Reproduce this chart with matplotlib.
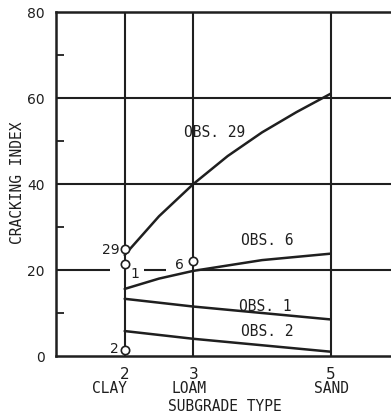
import matplotlib
matplotlib.use("Agg")
import matplotlib.pyplot as plt
import matplotlib.transforms as mtransforms

# ---- data ----
obs29_x = [2, 2.5, 3, 3.5, 4, 4.5, 5]
obs29_y = [23.5, 32.5, 40, 46.5, 52, 56.7, 61]
obs6_x = [2, 2.5, 3, 4, 5]
obs6_y = [15.6, 18.0, 19.8, 22.3, 23.8]
obs1_x = [2, 3, 4, 5]
obs1_y = [13.3, 11.5, 10.0, 8.5]
obs2_x = [2, 3, 4, 5]
obs2_y = [5.8, 4.0, 2.5, 1.0]

points_x = [2, 2, 2, 3]
points_y = [25.0, 21.5, 1.5, 22.0]
point_labels = ["29", "1", "2", "6"]

xticks = [2, 3, 5]
xtick_labels = ["2", "3", "5"]
soil_names = ["CLAY", "LOAM", "SAND"]
yticks = [0, 20, 40, 60, 80]
yminor = [10, 30, 50, 70]

ink = "#1f1f1f"
mono = "DejaVu Sans Mono"

fig = plt.figure(figsize=(3.91, 4.19), dpi=100)
fig.patch.set_facecolor("white")
ax = fig.add_axes([56 / 391, 63 / 419, 335 / 391, 344 / 419])
ax.set_xlim(1, 1 + 335 / 68.67)
ax.set_ylim(0, 80)

# spines
for s in ["left", "bottom", "top"]:
    ax.spines[s].set_color(ink)
    ax.spines[s].set_linewidth(1.8)
ax.spines["right"].set_visible(False)

# grid lines
for xv in xticks:
    ax.axvline(xv, color=ink, lw=1.5, zorder=1)
for yv in [40, 60]:
    ax.axhline(yv, color=ink, lw=1.5, zorder=1)
xmax = ax.get_xlim()[1]
ax.hlines([20, 20, 20], [1.0, 2.28, 3.06], [1.78, 2.6, xmax], color=ink, lw=1.5, zorder=1)

# curves
for xs, ys in [(obs29_x, obs29_y), (obs6_x, obs6_y), (obs1_x, obs1_y), (obs2_x, obs2_y)]:
    ax.plot(xs, ys, color=ink, lw=1.8, solid_joinstyle="round", solid_capstyle="round", zorder=3)

# observed points
ax.plot(points_x, points_y, linestyle="none", marker="o", ms=6, mfc="white",
        mec=ink, mew=1.2, zorder=4, clip_on=False)

# point labels
ax.text(1.92, 24.6, point_labels[0], ha="right", va="center", fontsize=10, color=ink)
ax.text(2.08, 19.0, point_labels[1], ha="left", va="center", fontsize=10, color=ink)
ax.text(1.92, 1.6, point_labels[2], ha="right", va="center", fontsize=10, color=ink)
ax.text(2.86, 21.2, point_labels[3], ha="right", va="center", fontsize=10, color=ink)

# curve labels
ax.text(2.86, 52.0, "OBS. 29", ha="left", va="center", fontsize=10.5, family=mono, color=ink)
ax.text(3.69, 26.8, "OBS. 6", ha="left", va="center", fontsize=10.5, family=mono, color=ink)
ax.text(3.66, 11.6, "OBS. 1", ha="left", va="center", fontsize=10.5, family=mono, color=ink)
ax.text(3.69, 5.7, "OBS. 2", ha="left", va="center", fontsize=10.5, family=mono, color=ink)

# ticks
ax.set_xticks(xticks)
ax.set_xticklabels(xtick_labels, fontsize=11, color=ink)
ax.set_yticks(yticks)
ax.set_yticklabels([str(v) for v in yticks], fontsize=10, color=ink)
ax.set_yticks(yminor, minor=True)
ax.tick_params(axis="x", which="major", length=0, pad=8)
ax.tick_params(axis="y", which="major", length=0, pad=8)
ax.tick_params(axis="y", which="minor", direction="in", length=6, width=1.3, color=ink)

# soil names under tick numbers
trans = mtransforms.blended_transform_factory(ax.transData, ax.transAxes)
for xpos, name in zip([1.786, 2.937, 5.005], soil_names):
    ax.text(xpos, -0.0945, name, transform=trans, ha="center", va="center",
            fontsize=10.5, family=mono, color=ink)

# axis titles
ax.text(3.46, -0.148, "SUBGRADE TYPE", transform=trans, ha="center", va="center",
        fontsize=10.5, family=mono, color=ink)
ax.text(-0.115, 0.504, "CRACKING INDEX", transform=ax.transAxes, ha="center", va="center",
        rotation=90, fontsize=10.5, family=mono, color=ink)

fig.savefig("out.png", dpi=100, facecolor="white")
